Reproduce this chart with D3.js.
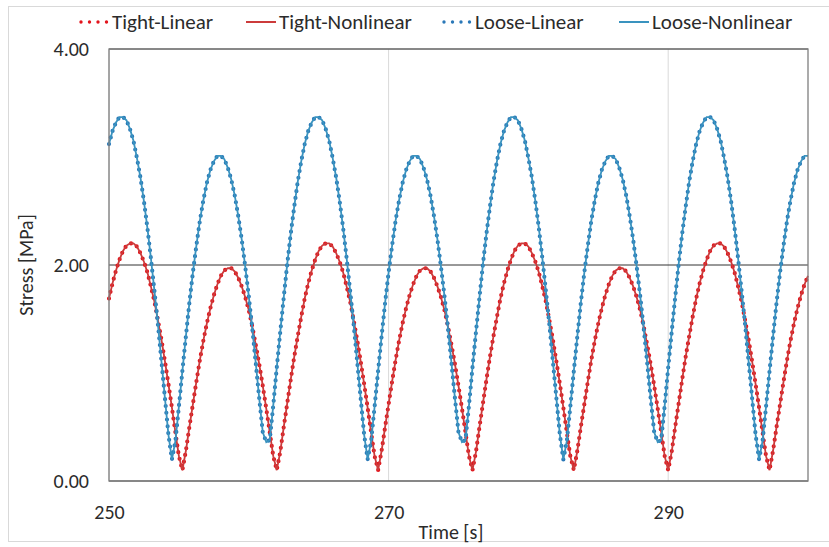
<!DOCTYPE html>
<meta charset="utf-8">
<style>

    body { margin: 0; background: #fff; }

    svg text {
        font-family: Carlito, Calibri, Lato, sans-serif;
        fill: #2b2b2b;
    }

    .frame { fill: none; stroke: #d9d9d9; stroke-width: 1px; }

    .plot-border { fill: none; stroke: #7f7f7f; stroke-width: 1.3px; }

    .vgrid { stroke: #d9d9d9; stroke-width: 1px; }

    .hgrid { stroke: #333; stroke-width: 1px; }

    .solid { fill: none; stroke-width: 1.8px; }

    .dotted {
        fill: none;
        stroke-width: 4.2px;
        stroke-linecap: round;
        stroke-dasharray: 0 6.8;
    }

</style>
<body>
<script src="https://cdn.jsdelivr.net/npm/d3@7"></script>
<script>

    var width = 829,
            height = 547;

    // plot area edges (left/top/right/bottom)
    var margin = {top: 49, right: 21, bottom: 66, left: 109};

    // sampling of the time axis: one value every 0.25 s
    var startTime = 250,
            timeStep = 0.25;

    var xTicks = [250, 270, 290],
            yTicks = [0, 2, 4];

    var seriesNames = ["Tight-Linear", "Tight-Nonlinear", "Loose-Linear", "Loose-Nonlinear"];
    var seriesColors = ["#e3141c", "#cc3b3b", "#2a78b8", "#3a93bf"];
    var seriesDotted = [true, false, true, false];

    var tightLinear = [
        1.69, 1.83, 1.95, 2.05, 2.13, 2.18, 2.20, 2.20, 2.17, 2.11, 2.03, 1.93, 1.80, 1.66, 1.49, 1.31, 1.11, 0.90, 0.68, 0.45, 0.23, 0.10, 0.28, 0.50, 0.71, 0.92, 1.12, 1.30,
        1.46, 1.60, 1.72, 1.82, 1.90, 1.95, 1.97, 1.97, 1.94, 1.88, 1.80, 1.70, 1.58, 1.43, 1.26, 1.08, 0.88, 0.67, 0.45, 0.23, 0.10, 0.27, 0.50, 0.72, 0.94, 1.15, 1.34, 1.52,
        1.69, 1.83, 1.95, 2.05, 2.13, 2.18, 2.20, 2.20, 2.17, 2.11, 2.03, 1.93, 1.80, 1.66, 1.49, 1.31, 1.11, 0.90, 0.68, 0.45, 0.23, 0.10, 0.28, 0.50, 0.71, 0.92, 1.12, 1.30,
        1.46, 1.60, 1.72, 1.82, 1.90, 1.95, 1.97, 1.97, 1.94, 1.88, 1.80, 1.70, 1.58, 1.43, 1.26, 1.08, 0.88, 0.67, 0.45, 0.23, 0.10, 0.27, 0.50, 0.72, 0.94, 1.15, 1.34, 1.52,
        1.69, 1.83, 1.95, 2.05, 2.13, 2.18, 2.20, 2.20, 2.17, 2.11, 2.03, 1.93, 1.80, 1.66, 1.49, 1.31, 1.11, 0.90, 0.68, 0.45, 0.23, 0.10, 0.28, 0.50, 0.71, 0.92, 1.12, 1.30,
        1.46, 1.60, 1.72, 1.82, 1.90, 1.95, 1.97, 1.97, 1.94, 1.88, 1.80, 1.70, 1.58, 1.43, 1.26, 1.08, 0.88, 0.67, 0.45, 0.23, 0.10, 0.27, 0.50, 0.72, 0.94, 1.15, 1.34, 1.52,
        1.69, 1.83, 1.95, 2.05, 2.13, 2.18, 2.20, 2.20, 2.17, 2.11, 2.03, 1.93, 1.80, 1.66, 1.49, 1.31, 1.11, 0.90, 0.68, 0.45, 0.23, 0.10, 0.28, 0.50, 0.71, 0.92, 1.12, 1.30,
        1.46, 1.60, 1.72, 1.82, 1.90
    ];

    var tightNonlinear = [
        1.69, 1.83, 1.95, 2.05, 2.13, 2.18, 2.20, 2.20, 2.17, 2.11, 2.03, 1.93, 1.80, 1.66, 1.49, 1.31, 1.11, 0.90, 0.68, 0.45, 0.23, 0.10, 0.28, 0.50, 0.71, 0.92, 1.12, 1.30,
        1.46, 1.60, 1.72, 1.82, 1.90, 1.95, 1.97, 1.97, 1.94, 1.88, 1.80, 1.70, 1.58, 1.43, 1.26, 1.08, 0.88, 0.67, 0.45, 0.23, 0.10, 0.27, 0.50, 0.72, 0.94, 1.15, 1.34, 1.52,
        1.69, 1.83, 1.95, 2.05, 2.13, 2.18, 2.20, 2.20, 2.17, 2.11, 2.03, 1.93, 1.80, 1.66, 1.49, 1.31, 1.11, 0.90, 0.68, 0.45, 0.23, 0.10, 0.28, 0.50, 0.71, 0.92, 1.12, 1.30,
        1.46, 1.60, 1.72, 1.82, 1.90, 1.95, 1.97, 1.97, 1.94, 1.88, 1.80, 1.70, 1.58, 1.43, 1.26, 1.08, 0.88, 0.67, 0.45, 0.23, 0.10, 0.27, 0.50, 0.72, 0.94, 1.15, 1.34, 1.52,
        1.69, 1.83, 1.95, 2.05, 2.13, 2.18, 2.20, 2.20, 2.17, 2.11, 2.03, 1.93, 1.80, 1.66, 1.49, 1.31, 1.11, 0.90, 0.68, 0.45, 0.23, 0.10, 0.28, 0.50, 0.71, 0.92, 1.12, 1.30,
        1.46, 1.60, 1.72, 1.82, 1.90, 1.95, 1.97, 1.97, 1.94, 1.88, 1.80, 1.70, 1.58, 1.43, 1.26, 1.08, 0.88, 0.67, 0.45, 0.23, 0.10, 0.27, 0.50, 0.72, 0.94, 1.15, 1.34, 1.52,
        1.69, 1.83, 1.95, 2.05, 2.13, 2.18, 2.20, 2.20, 2.17, 2.11, 2.03, 1.93, 1.80, 1.66, 1.49, 1.31, 1.11, 0.90, 0.68, 0.45, 0.23, 0.10, 0.28, 0.50, 0.71, 0.92, 1.12, 1.30,
        1.46, 1.60, 1.72, 1.82, 1.90
    ];

    var looseLinear = [
        3.12, 3.24, 3.32, 3.37, 3.37, 3.34, 3.26, 3.15, 2.99, 2.81, 2.59, 2.34, 2.06, 1.76, 1.45, 1.11, 0.77, 0.43, 0.20, 0.37, 0.69, 1.02, 1.34, 1.65, 1.93, 2.18, 2.41, 2.60,
        2.76, 2.88, 2.96, 3.01, 3.01, 2.98, 2.90, 2.79, 2.64, 2.45, 2.23, 1.98, 1.71, 1.41, 1.09, 0.76, 0.45, 0.36, 0.38, 0.70, 1.05, 1.38, 1.70, 2.01, 2.29, 2.54, 2.77, 2.96,
        3.12, 3.24, 3.32, 3.37, 3.37, 3.34, 3.26, 3.15, 2.99, 2.81, 2.59, 2.34, 2.06, 1.76, 1.45, 1.11, 0.77, 0.43, 0.20, 0.37, 0.69, 1.02, 1.34, 1.65, 1.93, 2.18, 2.41, 2.60,
        2.76, 2.88, 2.96, 3.01, 3.01, 2.98, 2.90, 2.79, 2.64, 2.45, 2.23, 1.98, 1.71, 1.41, 1.09, 0.76, 0.45, 0.36, 0.38, 0.70, 1.05, 1.38, 1.70, 2.01, 2.29, 2.54, 2.77, 2.96,
        3.12, 3.24, 3.32, 3.37, 3.37, 3.34, 3.26, 3.15, 2.99, 2.81, 2.59, 2.34, 2.06, 1.76, 1.45, 1.11, 0.77, 0.43, 0.20, 0.37, 0.69, 1.02, 1.34, 1.65, 1.93, 2.18, 2.41, 2.60,
        2.76, 2.88, 2.96, 3.01, 3.01, 2.98, 2.90, 2.79, 2.64, 2.45, 2.23, 1.98, 1.71, 1.41, 1.09, 0.76, 0.45, 0.36, 0.38, 0.70, 1.05, 1.38, 1.70, 2.01, 2.29, 2.54, 2.77, 2.96,
        3.12, 3.24, 3.32, 3.37, 3.37, 3.34, 3.26, 3.15, 2.99, 2.81, 2.59, 2.34, 2.06, 1.76, 1.45, 1.11, 0.77, 0.43, 0.20, 0.37, 0.69, 1.02, 1.34, 1.65, 1.93, 2.18, 2.41, 2.60,
        2.76, 2.88, 2.96, 3.01, 3.01
    ];

    var looseNonlinear = [
        3.12, 3.24, 3.32, 3.37, 3.37, 3.34, 3.26, 3.15, 2.99, 2.81, 2.59, 2.34, 2.06, 1.76, 1.45, 1.11, 0.77, 0.43, 0.20, 0.37, 0.69, 1.02, 1.34, 1.65, 1.93, 2.18, 2.41, 2.60,
        2.76, 2.88, 2.96, 3.01, 3.01, 2.98, 2.90, 2.79, 2.64, 2.45, 2.23, 1.98, 1.71, 1.41, 1.09, 0.76, 0.45, 0.36, 0.38, 0.70, 1.05, 1.38, 1.70, 2.01, 2.29, 2.54, 2.77, 2.96,
        3.12, 3.24, 3.32, 3.37, 3.37, 3.34, 3.26, 3.15, 2.99, 2.81, 2.59, 2.34, 2.06, 1.76, 1.45, 1.11, 0.77, 0.43, 0.20, 0.37, 0.69, 1.02, 1.34, 1.65, 1.93, 2.18, 2.41, 2.60,
        2.76, 2.88, 2.96, 3.01, 3.01, 2.98, 2.90, 2.79, 2.64, 2.45, 2.23, 1.98, 1.71, 1.41, 1.09, 0.76, 0.45, 0.36, 0.38, 0.70, 1.05, 1.38, 1.70, 2.01, 2.29, 2.54, 2.77, 2.96,
        3.12, 3.24, 3.32, 3.37, 3.37, 3.34, 3.26, 3.15, 2.99, 2.81, 2.59, 2.34, 2.06, 1.76, 1.45, 1.11, 0.77, 0.43, 0.20, 0.37, 0.69, 1.02, 1.34, 1.65, 1.93, 2.18, 2.41, 2.60,
        2.76, 2.88, 2.96, 3.01, 3.01, 2.98, 2.90, 2.79, 2.64, 2.45, 2.23, 1.98, 1.71, 1.41, 1.09, 0.76, 0.45, 0.36, 0.38, 0.70, 1.05, 1.38, 1.70, 2.01, 2.29, 2.54, 2.77, 2.96,
        3.12, 3.24, 3.32, 3.37, 3.37, 3.34, 3.26, 3.15, 2.99, 2.81, 2.59, 2.34, 2.06, 1.76, 1.45, 1.11, 0.77, 0.43, 0.20, 0.37, 0.69, 1.02, 1.34, 1.65, 1.93, 2.18, 2.41, 2.60,
        2.76, 2.88, 2.96, 3.01, 3.01
    ];

    var seriesValues = [tightLinear, tightNonlinear, looseLinear, looseNonlinear];

    var x = d3.scaleLinear()
            .domain([250, 300])
            .range([margin.left, width - margin.right]);

    var y = d3.scaleLinear()
            .domain([0, 4])
            .range([height - margin.bottom, margin.top]);

    var svg = d3.select("body").append("svg")
            .attr("width", width)
            .attr("height", height);

    // light outer chart frame (right side runs off the picture)
    svg.append("rect")
            .attr("class", "frame")
            .attr("x", 8.5)
            .attr("y", 6.5)
            .attr("width", 840)
            .attr("height", 535);

    // gridlines
    svg.selectAll(".vgrid")
            .data(xTicks)
            .enter().append("line")
            .attr("class", "vgrid")
            .attr("x1", function(d) { return x(d); })
            .attr("x2", function(d) { return x(d); })
            .attr("y1", y(0))
            .attr("y2", y(4));

    svg.selectAll(".hgrid")
            .data(yTicks)
            .enter().append("line")
            .attr("class", "hgrid")
            .attr("x1", x(250))
            .attr("x2", x(300))
            .attr("y1", function(d) { return y(d); })
            .attr("y2", function(d) { return y(d); });

    // series, in the order the legend lists them
    var line = d3.line()
            .x(function(d, i) { return x(startTime + i * timeStep); })
            .y(function(d) { return y(d); });

    svg.selectAll(".series")
            .data(seriesValues)
            .enter().append("path")
            .attr("class", function(d, i) { return seriesDotted[i] ? "series dotted" : "series solid"; })
            .attr("stroke", function(d, i) { return seriesColors[i]; })
            .attr("d", line);

    svg.append("rect")
            .attr("class", "plot-border")
            .attr("x", x(250))
            .attr("y", y(4))
            .attr("width", x(300) - x(250))
            .attr("height", y(0) - y(4));

    // axes
    var yAxis = svg.append("g")
            .attr("transform", "translate(" + margin.left + ",0)")
            .call(d3.axisLeft(y).tickValues(yTicks).tickFormat(d3.format(".2f")).tickSize(0).tickPadding(20));

    var xAxis = svg.append("g")
            .attr("transform", "translate(0," + (height - margin.bottom) + ")")
            .call(d3.axisBottom(x).tickValues(xTicks).tickFormat(d3.format("d")).tickSize(0).tickPadding(24));

    [yAxis, xAxis].forEach(function(g) {
        g.select(".domain").remove();
        g.selectAll("text").attr("font-size", 20).attr("fill", "#2b2b2b");
    });

    svg.append("text")
            .attr("transform", "translate(26,265)rotate(-90)")
            .attr("text-anchor", "middle")
            .attr("dy", "0.35em")
            .attr("font-size", 20)
            .text("Stress [MPa]");

    svg.append("text")
            .attr("x", 451)
            .attr("y", 532)
            .attr("text-anchor", "middle")
            .attr("dy", "0.35em")
            .attr("font-size", 20)
            .text("Time [s]");

    // legend across the top
    var legendX = [79, 246, 442, 619];

    var legend = svg.selectAll(".legend")
            .data(seriesNames)
            .enter().append("g")
            .attr("class", "legend")
            .attr("transform", function(d, i) { return "translate(" + legendX[i] + ",22)"; });

    legend.append("line")
            .attr("class", function(d, i) { return seriesDotted[i] ? "dotted" : "solid"; })
            .attr("x1", function(d, i) { return seriesDotted[i] ? 2 : 0; })
            .attr("x2", 30)
            .attr("stroke", function(d, i) { return seriesColors[i]; })
            .style("stroke-dasharray", function(d, i) { return seriesDotted[i] ? "0 8.5" : null; })
            .style("stroke-width", function(d, i) { return seriesDotted[i] ? "3.4px" : "2px"; });

    legend.append("text")
            .attr("x", 33)
            .attr("dy", "0.35em")
            .attr("font-size", 21)
            .text(function(d) { return d; });

</script>
</body>
